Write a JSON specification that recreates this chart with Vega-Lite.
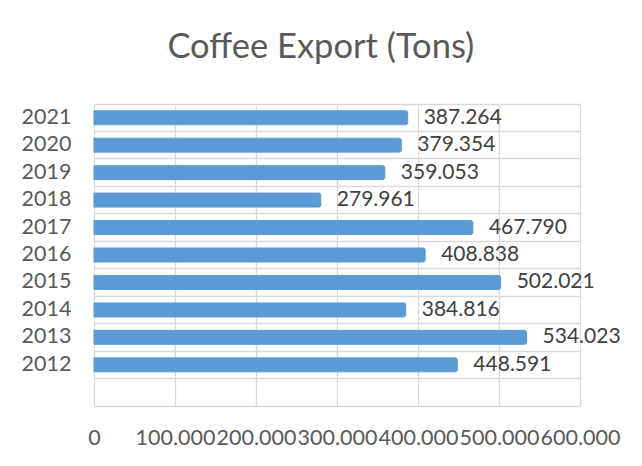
{
  "$schema": "https://vega.github.io/schema/vega-lite/v6.json",
  "width": 486,
  "height": 302,
  "autosize": {"type": "none"},
  "padding": {"left": 94, "top": 104, "right": 62, "bottom": 60},
  "background": "white",
  "config": {
    "locale": {"number": {"decimal": ",", "thousands": ".", "grouping": [3], "currency": ["", ""]}},
    "font": "Lato",
    "view": {"stroke": null}
  },
  "title": {
    "text": "Coffee Export (Tons)",
    "font": "Lato",
    "fontSize": 34.5,
    "fontWeight": "normal",
    "color": "#595959",
    "anchor": "middle",
    "frame": "bounds",
    "offset": 39
  },
  "data": {
    "values": [
      {"year": "2021", "tons": 387264},
      {"year": "2020", "tons": 379354},
      {"year": "2019", "tons": 359053},
      {"year": "2018", "tons": 279961},
      {"year": "2017", "tons": 467790},
      {"year": "2016", "tons": 408838},
      {"year": "2015", "tons": 502021},
      {"year": "2014", "tons": 384816},
      {"year": "2013", "tons": 534023},
      {"year": "2012", "tons": 448591}
    ]
  },
  "encoding": {
    "y": {
      "field": "year",
      "type": "nominal",
      "scale": {"domain": ["2021","2020","2019","2018","2017","2016","2015","2014","2013","2012",""], "paddingInner": 0, "paddingOuter": 0},
      "axis": {
        "title": null,
        "domain": false,
        "ticks": false,
        "grid": true,
        "bandPosition": 0,
        "gridColor": "#D9D9D9",
        "gridWidth": 1.3,
        "labelFont": "Lato",
        "labelFontSize": 21.5,
        "labelColor": "#595959",
        "labelPadding": 23
      }
    },
    "x": {
      "field": "tons",
      "type": "quantitative",
      "scale": {"domain": [0, 600000], "nice": false},
      "axis": {
        "title": null,
        "values": [0, 100000, 200000, 300000, 400000, 500000, 600000],
        "format": ",.0f",
        "ticks": false,
        "domain": true,
        "domainColor": "#D9D9D9",
        "domainWidth": 1.3,
        "grid": true,
        "gridColor": "#D9D9D9",
        "gridWidth": 1.3,
        "labelFont": "Lato",
        "labelFontSize": 21.5,
        "labelColor": "#595959",
        "labelPadding": 21,
        "labelOverlap": false,
        "labelFlush": false
      }
    }
  },
  "layer": [
    {
      "mark": {"type": "bar", "size": 14, "color": "#5B9BD5", "cornerRadiusEnd": 2, "stroke": "#5B9BD5", "strokeWidth": 1}
    },
    {
      "mark": {"type": "text", "align": "left", "baseline": "middle", "dx": 16, "font": "Lato", "fontSize": 21, "color": "#404040"},
      "encoding": {
        "text": {"field": "tons", "type": "quantitative", "format": ",.0f"}
      }
    }
  ]
}
